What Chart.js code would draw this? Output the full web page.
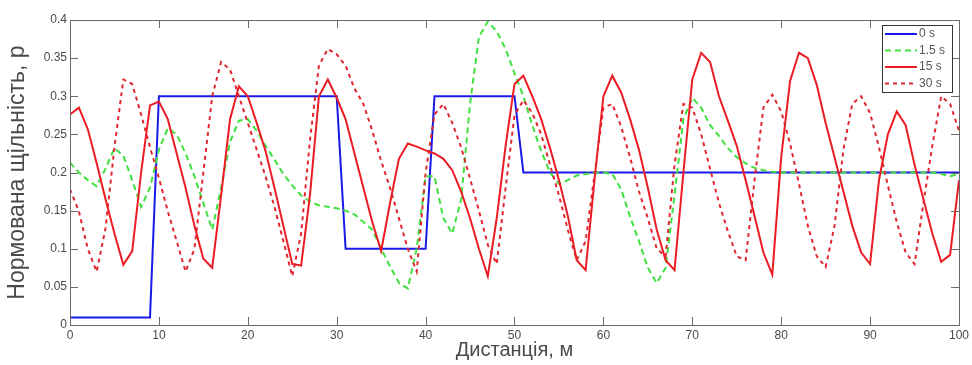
<!DOCTYPE html>
<html>
<head>
<meta charset="utf-8">
<script src="https://cdn.jsdelivr.net/npm/chart.js@4.4.0/dist/chart.umd.min.js"></script>
<style>
  body { margin: 0; background: #fff; }
  #wrap { width: 972px; height: 365px; }
</style>
</head>
<body>
<div id="wrap"><canvas id="densityChart" width="972" height="365"></canvas></div>
<script>
// distance grid, m
var distance = [0,1,2,3,4,5,6,7,8,9,10,11,12,13,14,15,16,17,18,19,20,21,22,23,24,25,26,27,28,29,30,
  31,32,33,34,35,36,37,38,39,40,41,42,43,44,45,46,47,48,49,50,51,52,53,54,55,56,57,58,59,60,
  61,62,63,64,65,66,67,68,69,70,71,72,73,74,75,76,77,78,79,80,81,82,83,84,85,86,87,88,89,90,
  91,92,93,94,95,96,97,98,99,100];

var seriesNames = ["0 s", "1.5 s", "15 s", "30 s"];

var density0s = [0.01,0.01,0.01,0.01,0.01,0.01,0.01,0.01,0.01,0.01,
  0.3,0.3,0.3,0.3,0.3,0.3,0.3,0.3,0.3,0.3,0.3,0.3,0.3,0.3,0.3,0.3,0.3,0.3,0.3,0.3,0.3,
  0.1,0.1,0.1,0.1,0.1,0.1,0.1,0.1,0.1,0.1,
  0.3,0.3,0.3,0.3,0.3,0.3,0.3,0.3,0.3,0.3,
  0.2,0.2,0.2,0.2,0.2,0.2,0.2,0.2,0.2,0.2,0.2,0.2,0.2,0.2,0.2,0.2,0.2,0.2,0.2,0.2,0.2,0.2,0.2,0.2,0.2,
  0.2,0.2,0.2,0.2,0.2,0.2,0.2,0.2,0.2,0.2,0.2,0.2,0.2,0.2,0.2,0.2,0.2,0.2,0.2,0.2,0.2,0.2,0.2,0.2,0.2];

var density1_5s = [0.213,0.2,0.19,0.182,0.205,0.232,0.222,0.19,0.155,0.18,
  0.23,0.258,0.25,0.225,0.195,0.16,0.125,0.18,0.24,0.268,
  0.27,0.255,0.235,0.217,0.198,0.183,0.17,0.162,0.157,0.155,
  0.153,0.15,0.145,0.135,0.125,0.1,0.077,0.055,0.048,0.1,
  0.195,0.195,0.14,0.12,0.165,0.29,0.378,0.398,0.385,0.362,
  0.33,0.3,0.262,0.228,0.2,0.185,0.19,0.196,0.198,0.2,
  0.2,0.198,0.178,0.142,0.11,0.075,0.055,0.075,0.17,0.27,
  0.298,0.285,0.262,0.248,0.232,0.22,0.212,0.206,0.203,0.201,
  0.2,0.2,0.2,0.2,0.2,0.2,0.2,0.2,0.2,0.2,
  0.2,0.2,0.2,0.2,0.2,0.2,0.2,0.2,0.198,0.195,0.198];

var density15s = [0.276,0.285,0.257,0.212,0.165,0.12,0.079,0.097,0.2,0.288,
  0.293,0.27,0.225,0.18,0.13,0.087,0.075,0.17,0.27,0.313,
  0.3,0.265,0.228,0.18,0.13,0.08,0.078,0.171,0.3,0.322,
  0.298,0.27,0.225,0.18,0.135,0.097,0.16,0.218,0.238,0.234,
  0.229,0.225,0.218,0.203,0.175,0.14,0.1,0.064,0.14,0.235,
  0.316,0.327,0.3,0.27,0.232,0.19,0.143,0.085,0.072,0.19,
  0.3,0.327,0.305,0.27,0.23,0.18,0.125,0.085,0.072,0.2,
  0.322,0.357,0.345,0.3,0.268,0.235,0.19,0.143,0.095,0.066,
  0.22,0.32,0.357,0.35,0.315,0.265,0.22,0.175,0.13,0.095,
  0.08,0.19,0.25,0.28,0.262,0.21,0.165,0.12,0.083,0.092,0.19];

var density30s = [0.178,0.149,0.1,0.07,0.127,0.233,0.322,0.316,0.276,0.233,
  0.193,0.149,0.11,0.07,0.1,0.2,0.3,0.345,0.335,0.3,
  0.265,0.23,0.195,0.155,0.11,0.064,0.12,0.243,0.34,0.362,
  0.355,0.34,0.31,0.29,0.255,0.215,0.18,0.14,0.1,0.07,
  0.2,0.276,0.29,0.265,0.233,0.192,0.15,0.105,0.08,0.18,
  0.275,0.295,0.278,0.25,0.21,0.17,0.125,0.085,0.11,0.197,
  0.285,0.29,0.26,0.22,0.175,0.14,0.1,0.09,0.21,0.29,
  0.285,0.25,0.205,0.16,0.123,0.09,0.085,0.19,0.285,0.302,
  0.28,0.238,0.185,0.13,0.09,0.076,0.13,0.23,0.29,0.3,
  0.278,0.233,0.183,0.135,0.095,0.08,0.16,0.235,0.3,0.29,0.255];

function toPoints(values) {
  return distance.map(function (d, i) { return { x: d, y: values[i] }; });
}

var axisColor = "#6a6a6a";
var textColor = "#4a4a4a";
var fontFamily = "'Liberation Sans', Arial, sans-serif";

// MATLAB-like box with inward ticks on all four sides
var boxTicks = {
  id: "boxTicks",
  afterDatasetsDraw: function (chart) {
    var ctx = chart.ctx, a = chart.chartArea;
    var xs = chart.scales.x, ys = chart.scales.y;
    ctx.save();
    ctx.strokeStyle = axisColor;
    ctx.lineWidth = 1;
    ctx.strokeRect(Math.round(a.left) + 0.5, Math.round(a.top) + 0.5,
      Math.round(a.right - a.left), Math.round(a.bottom - a.top));
    ctx.beginPath();
    xs.ticks.forEach(function (t) {
      var px = Math.round(xs.getPixelForValue(t.value)) + 0.5;
      ctx.moveTo(px, a.bottom); ctx.lineTo(px, a.bottom - 8);
      ctx.moveTo(px, a.top); ctx.lineTo(px, a.top + 8);
    });
    ys.ticks.forEach(function (t) {
      var py = Math.round(ys.getPixelForValue(t.value)) + 0.5;
      ctx.moveTo(a.left, py); ctx.lineTo(a.left + 8, py);
      ctx.moveTo(a.right, py); ctx.lineTo(a.right - 8, py);
    });
    ctx.stroke();
    ctx.restore();
  }
};

// legend box inside the top-right corner
var boxLegend = {
  id: "boxLegend",
  afterDraw: function (chart) {
    var ctx = chart.ctx, a = chart.chartArea;
    var w = 70, h = 67;
    var left = a.right - w - 7, top = a.top + 5;
    ctx.save();
    ctx.fillStyle = "#fff";
    ctx.fillRect(left, top, w, h);
    ctx.strokeStyle = "#333";
    ctx.lineWidth = 1;
    ctx.strokeRect(left + 0.5, top + 0.5, w, h);
    ctx.font = "12px " + fontFamily;
    ctx.textBaseline = "middle";
    chart.data.datasets.forEach(function (ds, i) {
      var y = top + 9 + i * 16.5;
      ctx.strokeStyle = ds.borderColor;
      ctx.lineWidth = ds.borderWidth;
      ctx.setLineDash(ds.borderDash || []);
      ctx.beginPath();
      ctx.moveTo(left + 3, y);
      ctx.lineTo(left + 35, y);
      ctx.stroke();
      ctx.setLineDash([]);
      ctx.fillStyle = "#555";
      ctx.fillText(ds.label, left + 37, y);
    });
    ctx.restore();
  }
};

var ctx = document.getElementById("densityChart").getContext("2d");
var densityChart = new Chart(ctx, {
  type: "line",
  data: {
    datasets: [
      { label: seriesNames[0], data: toPoints(density0s), borderColor: "#1a1ae6", borderWidth: 2, order: 4 },
      { label: seriesNames[1], data: toPoints(density1_5s), borderColor: "#3fe03f", borderWidth: 2, borderDash: [6, 4], order: 3 },
      { label: seriesNames[2], data: toPoints(density15s), borderColor: "#ec1c24", borderWidth: 2, order: 2 },
      { label: seriesNames[3], data: toPoints(density30s), borderColor: "#e0262e", borderWidth: 2, borderDash: [4, 4], order: 1 }
    ]
  },
  options: {
    responsive: false,
    animation: false,
    layout: { padding: { left: 0, right: 12, top: 20, bottom: 0 } },
    elements: { point: { radius: 0 }, line: { tension: 0 } },
    plugins: { legend: { display: false }, tooltip: { enabled: false } },
    scales: {
      x: {
        type: "linear", min: 0, max: 100,
        ticks: { stepSize: 10, color: textColor, padding: 3, font: { size: 12, family: fontFamily } },
        grid: { display: false, drawTicks: false },
        border: { display: false },
        title: { display: true, text: "Дистанція, м", color: textColor, padding: { top: 0, bottom: 3 },
          font: { size: 20, family: fontFamily } },
        afterFit: function (scale) { scale.height = 40; }
      },
      y: {
        type: "linear", min: 0, max: 0.4,
        ticks: {
          stepSize: 0.05, color: textColor, padding: 3, font: { size: 12, family: fontFamily },
          callback: function (value) { return String(Math.round(value * 100) / 100); }
        },
        grid: { display: false, drawTicks: false },
        border: { display: false },
        title: { display: true, text: "Нормована щільність, р", color: textColor, padding: { top: 4, bottom: 0 },
          font: { size: 23, family: fontFamily } },
        afterFit: function (scale) { scale.width = 70; }
      }
    }
  },
  plugins: [boxTicks, boxLegend]
});
</script>
</body>
</html>
